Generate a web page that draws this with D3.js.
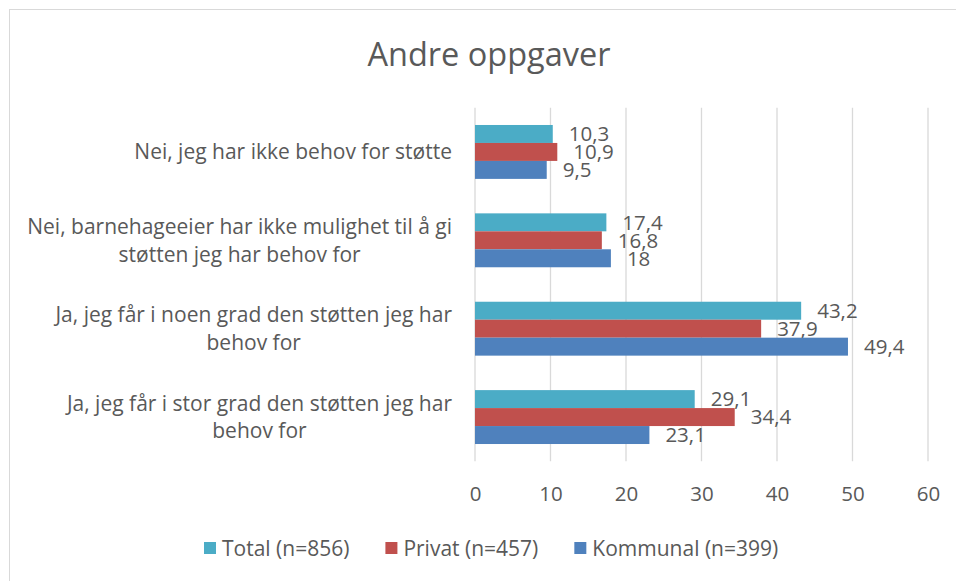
<!DOCTYPE html>
<html>
<head>
<meta charset="utf-8">
<script src="https://cdn.jsdelivr.net/npm/d3@7"></script>
<style>
  html, body { margin: 0; padding: 0; background: #fff; }
  svg { display: block; }
  text { font-family: "Open Sans", "Noto Sans", sans-serif; fill: #595959; }
</style>
</head>
<body>
<svg id="chart" width="956" height="581"></svg>
<script>
// Chart data
const title = "Andre oppgaver";
const categories = [
  "Nei, jeg har ikke behov for støtte",
  "Nei, barnehageeier har ikke mulighet til å gi støtten jeg har behov for",
  "Ja, jeg får i noen grad den støtten jeg har behov for",
  "Ja, jeg får i stor grad den støtten jeg har behov for"
];
const seriesNames = ["Total (n=856)", "Privat (n=457)", "Kommunal (n=399)"];
const totalValues = [10.3, 17.4, 43.2, 29.1];
const privatValues = [10.9, 16.8, 37.9, 34.4];
const kommunalValues = [9.5, 18, 49.4, 23.1];
const seriesValues = [totalValues, privatValues, kommunalValues];
const seriesColors = ["#4BACC6", "#C0504D", "#4F81BD"];
const xTicks = [0, 10, 20, 30, 40, 50, 60];

const svg = d3.select("#chart");
const W = 956, H = 581;
const fs = "20.5px";
const fsText = "21px";

// Outer chart frame (runs off the right and bottom edges)
svg.append("rect")
  .attr("x", 9.5).attr("y", 9.5)
  .attr("width", W + 10).attr("height", H + 10)
  .attr("fill", "#fff").attr("stroke", "#D9D9D9").attr("stroke-width", 1);

// Title
svg.append("text")
  .attr("x", 489).attr("y", 66)
  .attr("text-anchor", "middle")
  .style("font-size", "32.5px")
  .text(title);

const plot = { left: 475, right: 928, top: 107.75, bottom: 461.25 };

const x = d3.scaleLinear().domain([0, 60]).range([plot.left, plot.right]);
const y = d3.scaleBand()
  .domain(categories)
  .range([plot.top, plot.bottom])
  .paddingInner(0.39)
  .paddingOuter(0.195);
const ySub = d3.scaleBand()
  .domain(seriesNames)
  .range([0, y.bandwidth()]);

// Vertical gridlines
svg.append("g")
  .selectAll("line")
  .data(xTicks)
  .join("line")
  .attr("x1", d => x(d)).attr("x2", d => x(d))
  .attr("y1", plot.top).attr("y2", plot.bottom)
  .attr("stroke", "#D9D9D9").attr("stroke-width", 1.3);

// Bottom axis labels
const xAxis = d3.axisBottom(x).tickValues(xTicks).tickSize(0).tickPadding(0)
  .tickFormat(d3.format("d"));
const gx = svg.append("g")
  .attr("transform", `translate(0,${plot.bottom})`)
  .call(xAxis);
gx.select(".domain").remove();
gx.selectAll("text")
  .attr("y", 32).attr("dy", "0.36em")
  .style("font-size", fs)
  .style("fill", "#595959")
  .style("font-family", "'Open Sans', sans-serif");

// Bars and value labels
const fmt = v => String(v).replace(".", ",");
seriesNames.forEach((name, si) => {
  const vals = seriesValues[si];
  const g = svg.append("g");
  g.selectAll("rect")
    .data(categories)
    .join("rect")
    .attr("x", x(0))
    .attr("y", (c) => y(c) + ySub(name))
    .attr("width", (c, i) => x(vals[i]) - x(0))
    .attr("height", ySub.bandwidth())
    .attr("fill", seriesColors[si]);
  g.selectAll("text")
    .data(categories)
    .join("text")
    .attr("x", (c, i) => x(vals[i]) + 16)
    .attr("y", (c) => y(c) + ySub(name) + ySub.bandwidth() / 2)
    .attr("dy", "0.36em")
    .style("font-size", fs)
    .text((c, i) => fmt(vals[i]));
});

// Category labels, wrapped and centred as a block that ends at the axis
const labelRight = 452;
const lineH = 27.5;
const catG = svg.append("g");
categories.forEach(c => {
  const t = catG.append("text").style("font-size", fsText);
  const words = c.split(" ");
  const lines = [];
  let cur = [];
  const probe = catG.append("text").style("font-size", fsText);
  words.forEach(w => {
    const test = cur.concat([w]).join(" ");
    probe.text(test);
    if (probe.node().getComputedTextLength() > 440 && cur.length) {
      lines.push(cur.join(" "));
      cur = [w];
    } else {
      cur.push(w);
    }
  });
  lines.push(cur.join(" "));
  let maxW = 0;
  lines.forEach(l => { probe.text(l); maxW = Math.max(maxW, probe.node().getComputedTextLength()); });
  probe.remove();
  const cx = labelRight - maxW / 2;
  const cy = y(c) + y.bandwidth() / 2;
  const n = lines.length;
  lines.forEach((l, i) => {
    t.append("tspan")
      .attr("x", cx)
      .attr("y", cy + (i - (n - 1) / 2) * lineH)
      .attr("dy", "0.36em")
      .attr("text-anchor", "middle")
      .text(l);
  });
});

// Legend
const legend = svg.append("g");
let lx = 204;
const ly = 548;
seriesNames.forEach((name, si) => {
  legend.append("rect")
    .attr("x", lx).attr("y", ly - 6)
    .attr("width", 12).attr("height", 12)
    .attr("fill", seriesColors[si]);
  const t = legend.append("text")
    .attr("x", lx + 18).attr("y", ly)
    .attr("dy", "0.36em")
    .style("font-size", fsText)
    .text(name);
  lx += 18 + t.node().getComputedTextLength() + 36;
});
</script>
</body>
</html>
